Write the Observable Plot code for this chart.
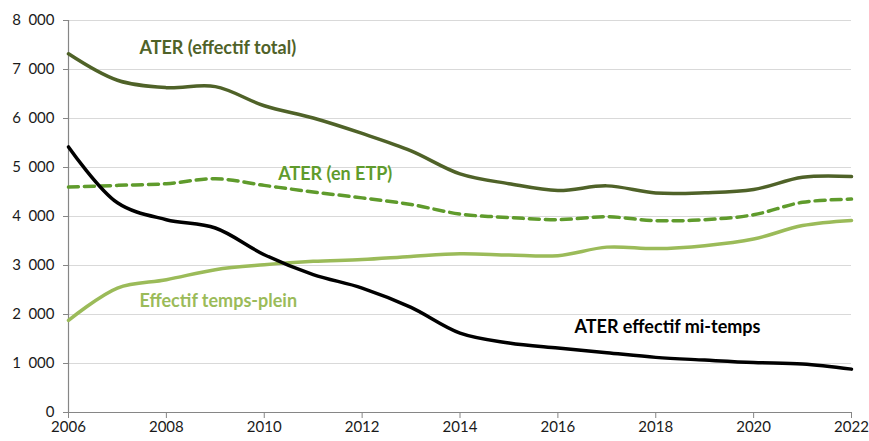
<!DOCTYPE html>
<html><head><meta charset="utf-8">
<script src="https://cdn.jsdelivr.net/npm/d3@7"></script>
<script src="https://cdn.jsdelivr.net/npm/@observablehq/plot@0.6"></script>
<style>body{margin:0;background:#fff;} svg{font-family:Lato, "Open Sans", sans-serif;}</style>
</head><body><div id="chart"></div>
<script>
const years = [2006,2007,2008,2009,2010,2011,2012,2013,2014,2015,2016,2017,2018,2019,2020,2021,2022];
const total = [7320,6780,6630,6650,6260,6010,5695,5340,4870,4670,4530,4625,4480,4485,4550,4800,4815];
const etp =   [4600,4635,4670,4770,4635,4500,4380,4245,4050,3980,3935,3995,3915,3935,4035,4290,4355];
const plein = [1880,2540,2710,2915,3015,3085,3120,3185,3240,3215,3200,3375,3345,3405,3540,3815,3920];
const mi =    [5420,4280,3935,3765,3220,2815,2540,2145,1620,1420,1315,1220,1125,1070,1020,990,885];
const yTicks = [0,1000,2000,3000,4000,5000,6000,7000,8000];
const xTicks = [2006,2008,2010,2012,2014,2016,2018,2020,2022];
const labels = [
  {text:"ATER (effectif total)", year:2009.05, value:7435, color:"#4f6228"},
  {text:"ATER (en ETP)", year:2011.45, value:4866, color:"#5f9b2c"},
  {text:"Effectif temps-plein", year:2009.06, value:2277, color:"#9bbb59"},
  {text:"ATER effectif mi-temps", year:2018.24, value:1747, color:"#000000"}
];
const mk = arr => years.map((y,i)=>({year:y, value:arr[i]}));
const fmt = d => d3.format(",")(d).replace(/,/g, "\u2002");
const chart = Plot.plot({
  width: 869, height: 441,
  marginLeft: 68, marginRight: 18, marginTop: 20, marginBottom: 29,
  x: {domain:[2006,2022], label:null},
  y: {domain:[0,8000], label:null},
  style: {fontSize:"15px", color:"#1a1a1a", fontFamily:"Lato, 'Open Sans', sans-serif"},
  marks: [
    Plot.gridY(yTicks, {stroke:"#d9d9d9", strokeOpacity:1, strokeWidth:1.2}),
    Plot.axisX({ticks:xTicks, tickFormat:d=>String(d), stroke:"#868686", fontSize:15, label:null, tickSize:6, tickPadding:3}),
    Plot.axisY({ticks:yTicks, tickFormat:fmt, stroke:"#868686", fontSize:15, label:null, tickSize:5, tickPadding:9}),
    Plot.ruleY([0], {stroke:"#868686", strokeWidth:1.2}),
    Plot.ruleX([2006], {stroke:"#868686", strokeWidth:1.2}),
    Plot.line(mk(plein), {x:"year", y:"value", stroke:"#9bbb59", strokeWidth:3.5, curve:"catmull-rom"}),
    Plot.line(mk(etp), {x:"year", y:"value", stroke:"#5f9b2c", strokeWidth:3.5, strokeDasharray:"10,6", curve:"catmull-rom"}),
    Plot.line(mk(total), {x:"year", y:"value", stroke:"#4f6228", strokeWidth:3.5, curve:"catmull-rom"}),
    Plot.line(mk(mi), {x:"year", y:"value", stroke:"#000000", strokeWidth:3.5, curve:"catmull-rom"}),
    Plot.text(labels, {x:"year", y:"value", text:"text", fill:"color", fontSize:18, fontWeight:"bold", textAnchor:"middle"})
  ]
});
document.getElementById("chart").append(chart);
</script>
</body></html>
